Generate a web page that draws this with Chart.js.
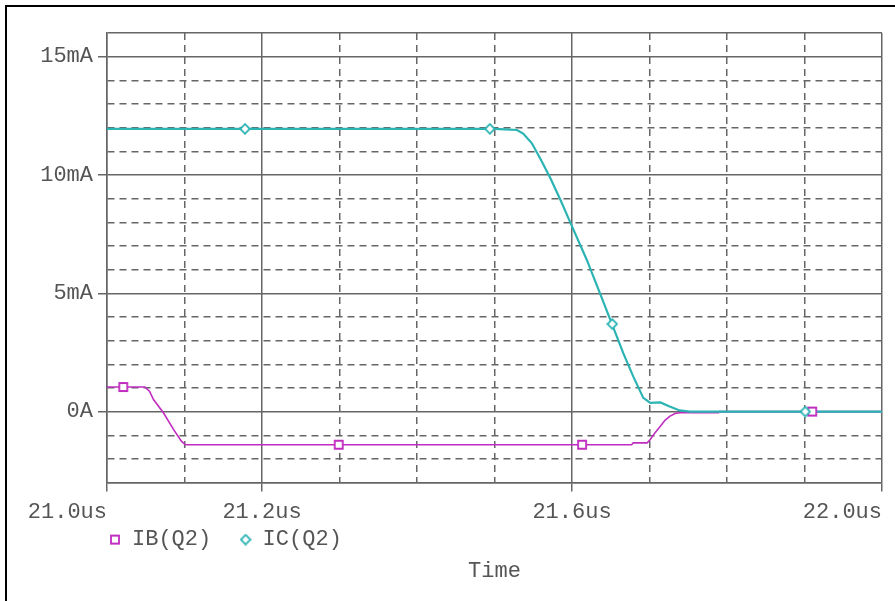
<!DOCTYPE html>
<html>
<head>
<meta charset="utf-8">
<script src="https://cdn.jsdelivr.net/npm/chart.js@4.4.1/dist/chart.umd.min.js"></script>
<style>
  html, body { margin: 0; padding: 0; background: #fff; }
  #wrap { position: relative; width: 895px; height: 601px; overflow: hidden; }
  #frame { position: absolute; left: 5px; top: 5px; right: -10px; bottom: -10px;
           border-top: 2px solid #000; border-left: 2px solid #000; pointer-events: none; }
</style>
</head>
<body>
<div id="wrap"><canvas id="c"></canvas><div id="frame"></div></div>
<script>
// ---- data (time in us, current in mA) ----
const seriesNames = ['IB(Q2)', 'IC(Q2)'];

const ibTime  = [21.0, 21.049, 21.055, 21.060, 21.073, 21.086, 21.096, 21.101, 21.677, 21.679, 21.697, 21.701, 21.707, 21.714, 21.720, 21.726, 21.733, 21.739, 21.789, 21.790, 22.0];
const ibValue = [1.04, 1.04,   0.85,   0.51,   -0.06,  -0.76,  -1.25,  -1.40,  -1.40,  -1.32,  -1.32,  -1.18,  -0.90,  -0.62,  -0.37,  -0.20,  -0.08,  -0.05,  -0.05,  0.0,    0.0];

const icTime  = [21.0,  21.48, 21.50, 21.514, 21.529, 21.537, 21.548, 21.559, 21.572, 21.585, 21.600, 21.619, 21.636, 21.651, 21.666, 21.679, 21.692, 21.701, 21.714, 21.726, 21.739, 21.752, 22.0];
const icValue = [11.95, 11.95, 11.95, 11.93,  11.90,  11.75,  11.35,  10.70,  9.87,   8.95,   7.83,   6.42,   5.01,   3.75,   2.48,   1.49,   0.58,   0.37,   0.39,   0.22,   0.05,   0.0,    0.0];

const ibMarkerTime  = [21.021, 21.299, 21.613, 21.910];
const ibMarkerValue = [1.04, -1.40, -1.40, 0.0];
const icMarkerTime  = [21.178, 21.494, 21.652, 21.901];
const icMarkerValue = [11.95, 11.95, 3.70, 0.0];

const xTickValues = [21.0, 21.2, 21.6, 22.0];
const xTickLabels = ['21.0us', '21.2us', '21.6us', '22.0us'];
const yTickValues = [0, 5, 10, 15];
const yTickLabels = ['0A', '5mA', '10mA', '15mA'];

// ---- styles ----
const IB_COLOR = '#c02cc0';
const IC_COLOR = '#2cb4b4';
const GRID = '#666666';
const TEXT = '#555555';
const FONT = "'Liberation Mono', 'Courier New', monospace";
const FS = 22;

function makeMarker(kind, color) {
  const s = 12;
  const c = document.createElement('canvas');
  c.width = s; c.height = s;
  const g = c.getContext('2d');
  g.fillStyle = '#fff';
  g.strokeStyle = color;
  g.lineWidth = 1.8;
  g.beginPath();
  if (kind === 'square') {
    g.rect(2, 2, 8, 8);
  } else {
    g.moveTo(6, 1.2); g.lineTo(10.8, 6); g.lineTo(6, 10.8); g.lineTo(1.2, 6); g.closePath();
  }
  g.fill();
  g.stroke();
  return c;
}
const squareImg = makeMarker('square', IB_COLOR);
const diamondImg = makeMarker('diamond', IC_COLOR);

const pts = (t, v) => t.map((x, i) => ({ x: x, y: v[i] }));
const near = (a, b) => Math.abs(a - b) < 1e-6;
const xLabelIndex = v => xTickValues.findIndex(t => near(t, v));
const yLabelIndex = v => yTickValues.findIndex(t => near(t, v));

const X_MIN = 21.0, X_MAX = 22.0, Y_MIN = -3, Y_MAX = 16;

const xSolid = v => xLabelIndex(v) >= 0 || near(v, X_MIN) || near(v, X_MAX);
const ySolid = v => yLabelIndex(v) >= 0 || near(v, Y_MIN) || near(v, Y_MAX);
const DASH = [7, 5];

Chart.defaults.font.family = FONT;
Chart.defaults.font.size = FS;
Chart.defaults.color = TEXT;

new Chart(document.getElementById('c'), {
  type: 'line',
  data: {
    datasets: [
      { label: seriesNames[1] + ' markers', data: pts(icMarkerTime, icMarkerValue), showLine: false,
        pointStyle: diamondImg, pointRadius: 5, pointHoverRadius: 5, order: 0 },
      { label: seriesNames[0] + ' markers', data: pts(ibMarkerTime, ibMarkerValue), showLine: false,
        pointStyle: squareImg, pointRadius: 5, pointHoverRadius: 5, order: 1 },
      { label: seriesNames[1], data: pts(icTime, icValue), borderColor: IC_COLOR, borderWidth: 2.2,
        pointRadius: 0, tension: 0, fill: false, order: 2 },
      { label: seriesNames[0], data: pts(ibTime, ibValue), borderColor: IB_COLOR, borderWidth: 1.6,
        pointRadius: 0, tension: 0, fill: false, order: 3 }
    ]
  },
  options: {
    responsive: true,
    maintainAspectRatio: false,
    animation: false,
    events: [],
    layout: { padding: { left: 0, right: 13, top: 33, bottom: 17 } },
    plugins: {
      tooltip: { enabled: false },
      legend: {
        display: true,
        position: 'bottom',
        align: 'start',
        fullSize: false,
        maxHeight: 26,
        labels: {
          usePointStyle: true,
          boxWidth: 12,
          boxHeight: 10,
          padding: 2,
          color: TEXT,
          font: { family: FONT, size: FS },
          generateLabels: () => [
            { text: seriesNames[0] + '  ', pointStyle: squareImg, fillStyle: '#fff', strokeStyle: IB_COLOR,
              lineWidth: 0, fontColor: TEXT, hidden: false, datasetIndex: 3 },
            { text: seriesNames[1], pointStyle: diamondImg, fillStyle: '#fff', strokeStyle: IC_COLOR,
              lineWidth: 0, fontColor: TEXT, hidden: false, datasetIndex: 2 }
          ]
        }
      },
      title: {
        display: true,
        text: 'Time',
        position: 'bottom',
        fullSize: false,
        color: TEXT,
        font: { family: FONT, size: FS, weight: 'normal' },
        padding: { top: 5, bottom: 0 }
      }
    },
    scales: {
      x: {
        type: 'linear',
        min: X_MIN,
        max: X_MAX,
        ticks: {
          stepSize: 0.1,
          autoSkip: false,
          maxRotation: 0,
          minRotation: 0,
          padding: 7,
          color: TEXT,
          font: { family: FONT, size: FS },
          callback: (v) => {
            const i = xLabelIndex(v);
            if (i < 0) return '';
            const edge = (i === 0 || i === xTickValues.length - 1);
            return edge ? xTickLabels[i] + '      ' : xTickLabels[i];
          }
        },
        grid: {
          color: GRID,
          lineWidth: 1.5,
          drawTicks: true,
          tickLength: 9,
          tickWidth: 1.5,
          tickColor: (c) => (c.tick && xLabelIndex(c.tick.value) >= 0) ? GRID : 'rgba(0,0,0,0)'
        },
        border: {
          display: true,
          color: GRID,
          width: 1.5,
          dash: (c) => (c.tick && !xSolid(c.tick.value)) ? DASH : []
        },
        afterFit: (s) => { s.height = 44; s.paddingLeft = 0; s.paddingRight = 0; }
      },
      y: {
        type: 'linear',
        min: Y_MIN,
        max: Y_MAX,
        ticks: {
          stepSize: 1,
          autoSkip: false,
          padding: 5,
          color: TEXT,
          font: { family: FONT, size: FS },
          callback: (v) => {
            const i = yLabelIndex(v);
            return i < 0 ? '' : yTickLabels[i];
          }
        },
        grid: {
          color: GRID,
          lineWidth: 1.5,
          drawTicks: true,
          tickLength: 9,
          tickWidth: 1.5,
          tickColor: (c) => (c.tick && yLabelIndex(c.tick.value) >= 0) ? GRID : 'rgba(0,0,0,0)'
        },
        border: {
          display: true,
          color: GRID,
          width: 1.5,
          dash: (c) => (c.tick && !ySolid(c.tick.value)) ? DASH : []
        },
        afterFit: (s) => { s.width = 107; s.paddingTop = 0; s.paddingBottom = 0; }
      }
    }
  }
});
</script>
</body>
</html>
